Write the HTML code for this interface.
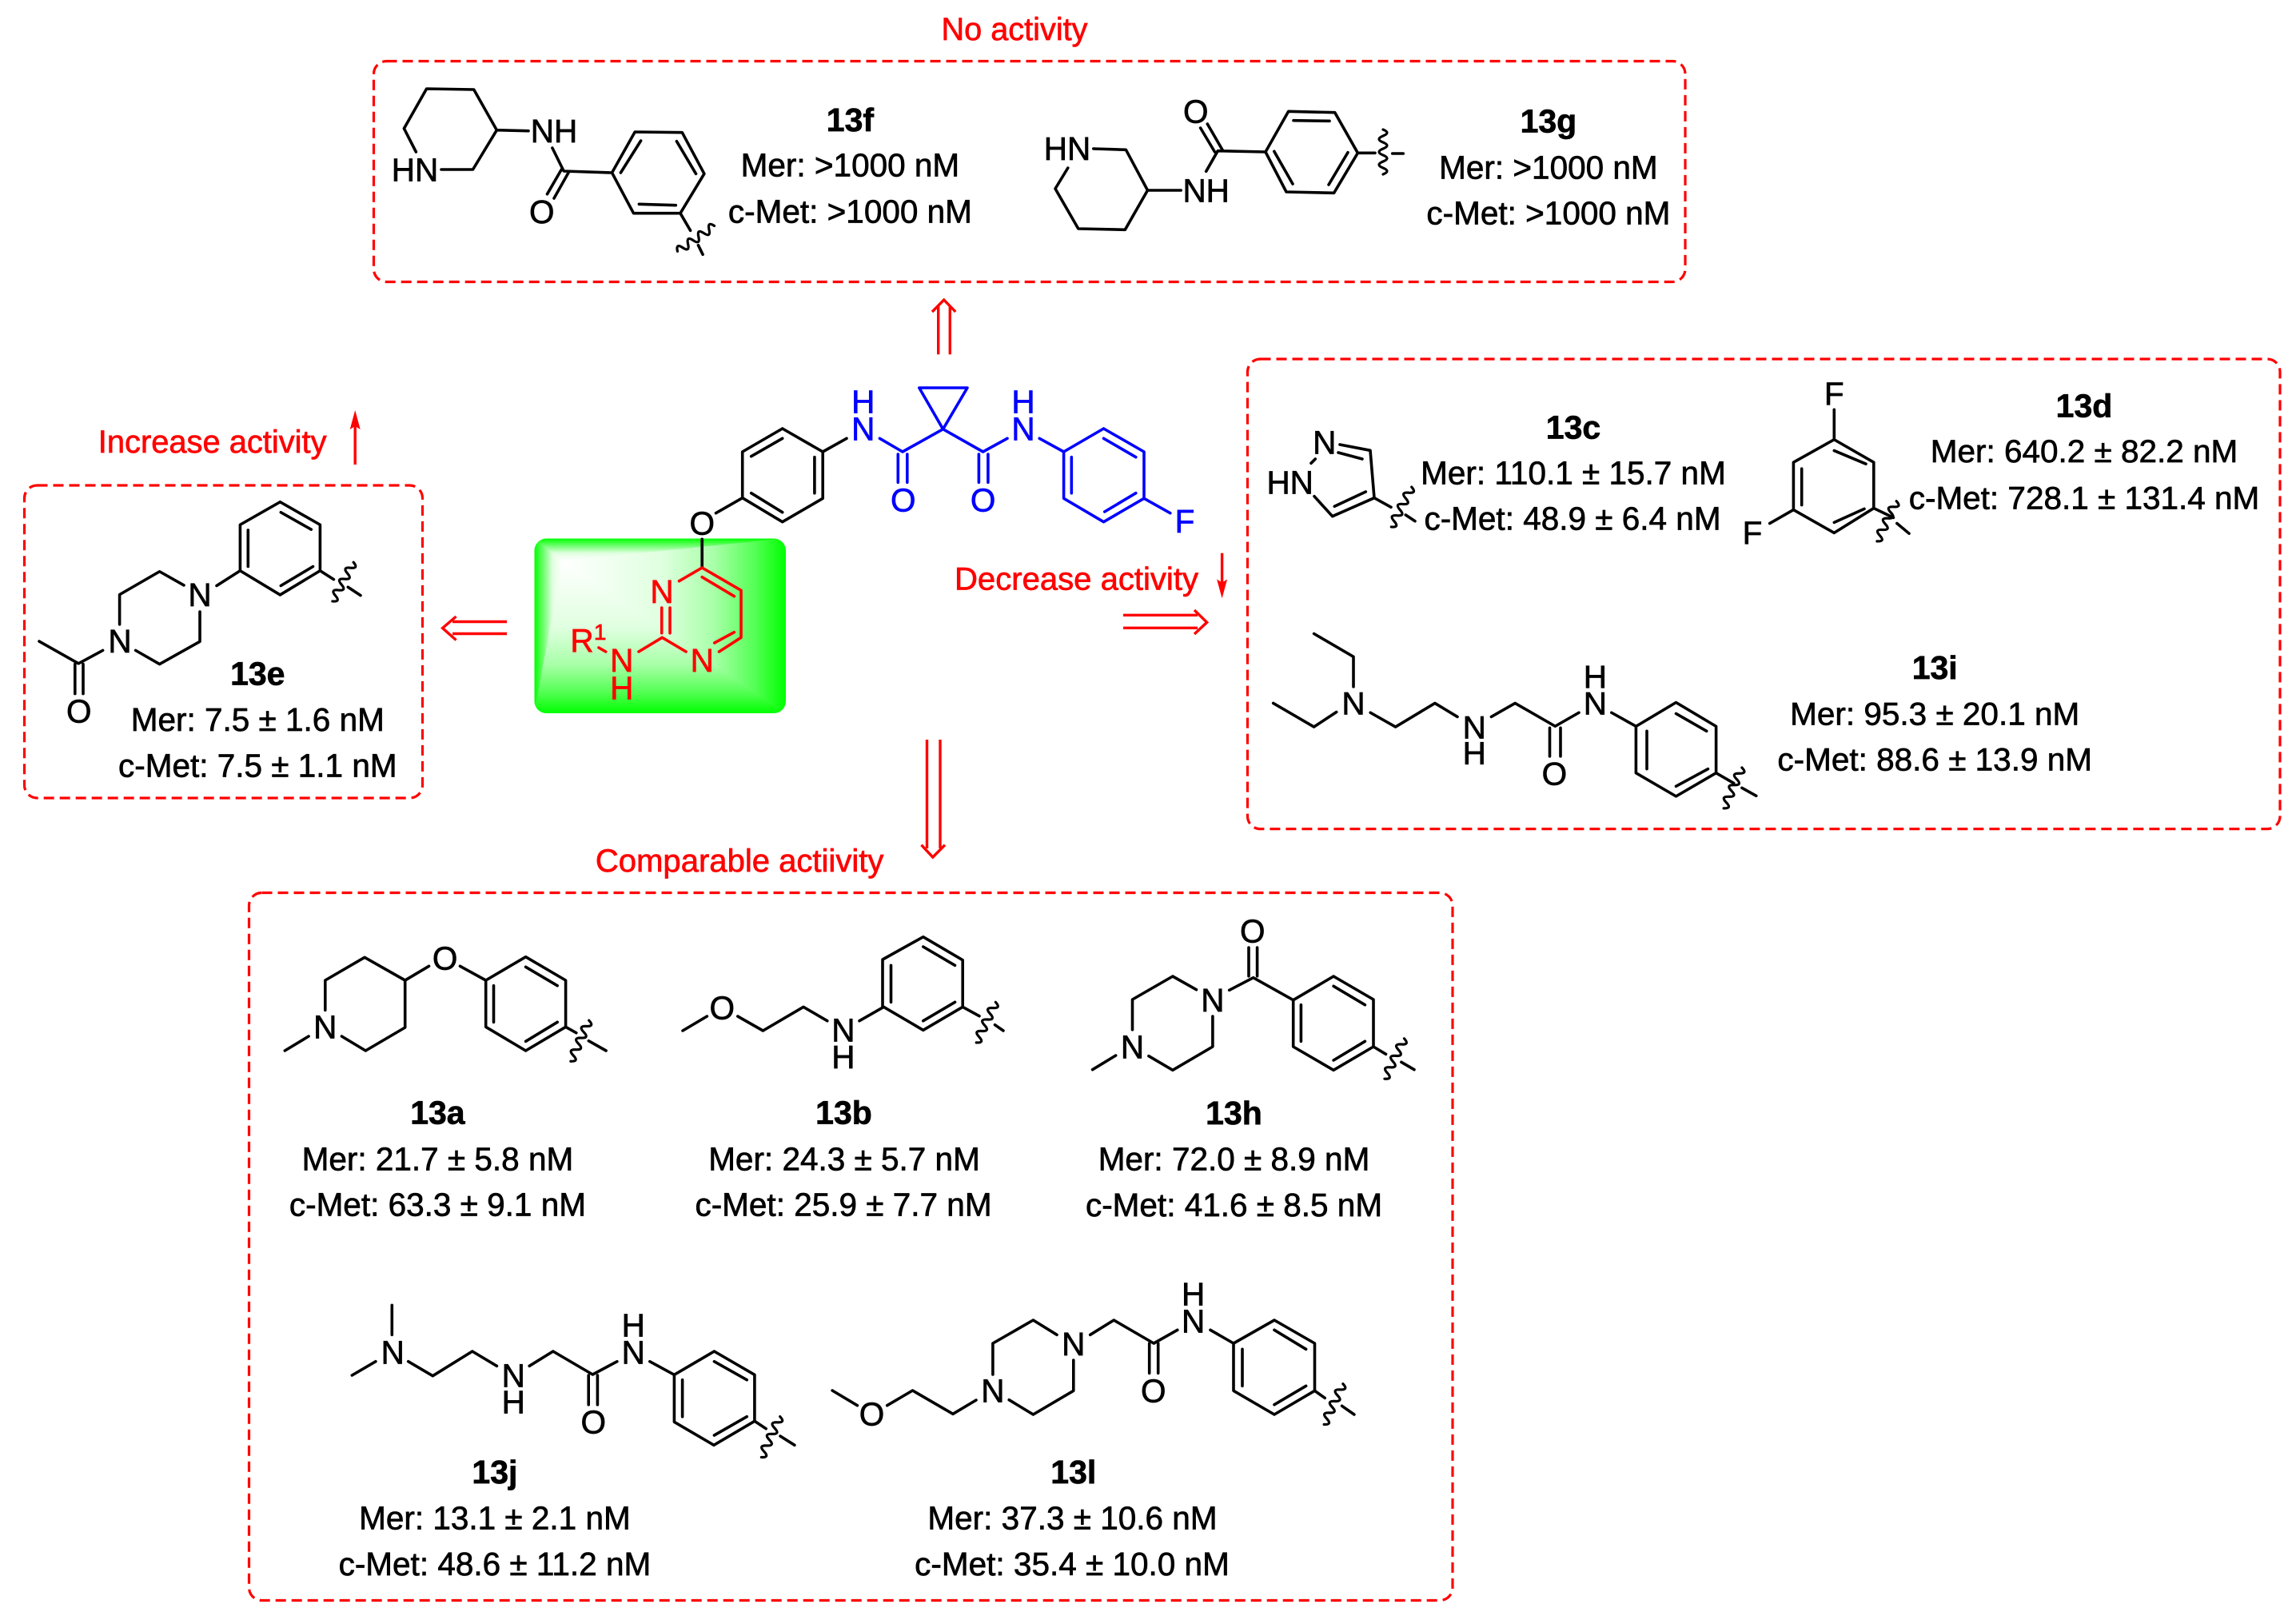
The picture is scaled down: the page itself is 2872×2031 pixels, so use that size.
<!DOCTYPE html>
<html><head><meta charset="utf-8"><style>
html,body{margin:0;padding:0;background:#fff}
svg{display:block}
text{font-family:"Liberation Sans",sans-serif;stroke-width:.7px}
.b{fill:none;stroke:#000;stroke-width:3.6;stroke-linecap:round;stroke-linejoin:round}
.w{fill:none;stroke:#000;stroke-width:3.2;stroke-linecap:round}
.box{fill:none;stroke:#f00;stroke-width:3.2;stroke-dasharray:13 7}
.a{font-size:40.5px;text-anchor:middle;fill:#000;stroke:#000}
.v{font-size:40.5px;text-anchor:middle;fill:#000;stroke:#000}
.t{font-size:41px;font-weight:bold;text-anchor:middle;fill:#000;stroke:#000}
.r{font-size:40px;fill:#f00;stroke:#f00}
.ra{fill:none;stroke:#f00;stroke-width:3.4}
.bl{font-size:40.5px;text-anchor:middle;fill:#00f;stroke:#00f}
.rd{font-size:40.5px;text-anchor:middle;fill:#f00;stroke:#f00}
</style></head><body>
<svg width="2872" height="2031" viewBox="0 0 2872 2031" xmlns="http://www.w3.org/2000/svg">
<defs>
<clipPath id="gc"><rect x="668.5" y="673.5" width="314.5" height="218.5" rx="15"/></clipPath>
<linearGradient id="gl" gradientUnits="userSpaceOnUse" x1="703.3" y1="0" x2="668.5" y2="0"><stop offset="0" stop-color="#fff"/><stop offset=".35" stop-color="#e0ffe0"/><stop offset="1" stop-color="#0f0"/></linearGradient>
<linearGradient id="gt" gradientUnits="userSpaceOnUse" x1="0" y1="701.7" x2="0" y2="673.5"><stop offset="0" stop-color="#fff"/><stop offset=".35" stop-color="#e0ffe0"/><stop offset="1" stop-color="#0f0"/></linearGradient>
<linearGradient id="gr" gradientUnits="userSpaceOnUse" x1="703.3" y1="0" x2="983" y2="0"><stop offset="0" stop-color="#fff"/><stop offset=".44" stop-color="#e0ffe0"/><stop offset=".68" stop-color="#a8ffa8"/><stop offset=".86" stop-color="#55ff55"/><stop offset="1" stop-color="#0f0"/></linearGradient>
<linearGradient id="gb" gradientUnits="userSpaceOnUse" x1="0" y1="701.7" x2="0" y2="892"><stop offset="0" stop-color="#fff"/><stop offset=".44" stop-color="#e0ffe0"/><stop offset=".68" stop-color="#a8ffa8"/><stop offset=".86" stop-color="#55ff55"/><stop offset="1" stop-color="#0f0"/></linearGradient>
</defs>

<!-- green box -->
<g clip-path="url(#gc)" shape-rendering="crispEdges">
<polygon points="703.3,701.7 668,673 983.5,673" fill="url(#gt)"/>
<polygon points="703.3,701.7 983.5,673 983.5,892.5" fill="url(#gr)"/>
<polygon points="703.3,701.7 983.5,892.5 668,892.5" fill="url(#gb)"/>
<polygon points="703.3,701.7 668,892.5 668,673" fill="url(#gl)"/>
</g>

<!-- dashed boxes -->
<rect class="box" x="467.5" y="76.5" width="1640.5" height="276" rx="16"/>
<rect class="box" x="30.5" y="607" width="498" height="391" rx="16"/>
<rect class="box" x="1560.5" y="449" width="1291.5" height="587.7" rx="16"/>
<rect class="box" x="311.5" y="1116.5" width="1505.5" height="885" rx="16"/>

<!-- red labels -->
<text class="r" x="1177.5" y="50" textLength="183" lengthAdjust="spacingAndGlyphs">No activity</text>
<text class="r" x="122.8" y="565.8" textLength="285.7" lengthAdjust="spacingAndGlyphs">Increase activity</text>
<text class="r" x="1194" y="737.3" textLength="305" lengthAdjust="spacingAndGlyphs">Decrease activity</text>
<text class="r" x="744.9" y="1090" textLength="360.5" lengthAdjust="spacingAndGlyphs">Comparable actiivity</text>

<!-- red arrows -->
<path d="M444.2 581V530" class="ra"/><polygon points="444.2,513 450.7,537 444.2,533 437.7,537" fill="#f00"/>
<path d="M1528.6 691.7V730" class="ra"/><polygon points="1528.6,748.3 1522.1,724.5 1528.6,728.5 1535.1,724.5" fill="#f00"/>
<path class="ra" d="M634 777.5H566M634 792.5H566M570.5 771L553.6 785.5L570.5 800.5"/>
<path class="ra" d="M1405 769.3H1498M1405 785.3H1498M1494 763L1509.7 778.3L1494 793"/>
<path class="ra" d="M1173.7 443.3V382M1188.3 443.3V382M1166 390L1180.7 375L1195.3 390"/>
<path class="ra" d="M1159.5 925V1061M1176 925V1061M1152.5 1056.7L1166.8 1072L1182 1056.7"/>

<!-- 13f -->
<path class="b" d="M552 212L591.5 212L621.4 162.7L592.7 112L533.6 111L505.4 160.7L520.4 190M621.4 162.7L661 163.7M690.9 185L705.2 214L765.5 216M702.3 212L684.5 242.7M711 216L693 248M765.5 216L794.2 165L853.3 165.7L880.9 217.3L851 266.7L792.5 266.7L765.5 216M801.6 176L776.4 216M846.4 176.7L870.5 217.3M799.4 255.3L845.3 256.7M851 266.7L863.6 288.3M873.4 306.7L879.1 318.3"/>
<path class="w" transform="translate(870.5 298.4) rotate(-34.6)" d="M-28 0q4-10 8 0t8 0t8 0t8 0t8 0t8 0t8 0"/>
<text class="a" x="693" y="178">NH</text><text class="a" x="519" y="226.7">HN</text><text class="a" x="677.7" y="279">O</text>
<text class="t" x="1063.4" y="164">13f</text><text class="v" x="1063.4" y="220.7">Mer: &gt;1000 nM</text><text class="v" x="1063.4" y="278.3">c-Met: &gt;1000 nM</text>

<!-- 13g -->
<path class="b" d="M1367.8 186L1408.4 187.3L1435.5 238L1407.3 287.3L1348.8 286L1320 236L1335.8 210M1435.5 238H1477.2M1508.7 214.3L1523.3 188.7L1583 190M1501.6 160L1519.5 190M1510.3 155L1529.8 188.7M1583 190L1611.7 139.3L1669.7 140.7L1698.4 191.3L1668.6 241.3L1609 240L1583 190M1618 150.7L1663 151.3M1593.8 189.3L1617 230M1686 190.7L1662 231M1698.4 191.3H1720M1741.7 192H1755.3"/>
<path class="w" transform="translate(1730 190) rotate(90)" d="M-28 0q4-10 8 0t8 0t8 0t8 0t8 0t8 0t8 0"/>
<text class="a" x="1335" y="200">HN</text><text class="a" x="1508.7" y="252.3">NH</text><text class="a" x="1495.7" y="153.3">O</text>
<text class="t" x="1936.9" y="165.7">13g</text><text class="v" x="1936.9" y="223.3">Mer: &gt;1000 nM</text><text class="v" x="1936.9" y="280.7">c-Met: &gt;1000 nM</text>

<!-- 13e -->
<g transform="translate(0 480) scale(1 .9863) translate(0 -480)">
<path class="b" d="M350.4 629.8L400.4 658.7V717L350.4 747.6L300.4 717V658.7L350.4 629.8M351.3 643L389.3 664.7M391.5 711.7L351.3 736M310.3 665.4V711.7M271 736L300.4 717M230 735.4L199.6 718L149.6 747.3V785M250 769V806.8L199.6 835.4L169.6 818M128.6 818L98.2 834.7L49 806.5M93.8 835.4V873M104 835.4V873M400.4 717L417.4 728M435.3 737.8L451 748.3"/>
<path class="w" transform="translate(429 731) rotate(118)" d="M-28 0q4-10 8 0t8 0t8 0t8 0t8 0t8 0t8 0"/>
</g>
<text class="a" x="250" y="758.1">N</text><text class="a" x="150" y="816.1">N</text><text class="a" x="98.7" y="903.4">O</text>
<text class="t" x="322.3" y="856.6">13e</text><text class="v" x="322.3" y="914">Mer: 7.5 ± 1.6 nM</text><text class="v" x="322.3" y="971.5">c-Met: 7.5 ± 1.1 nM</text>

<!-- centre: black -->
<path class="b" d="M978.7 536L1029.2 565V623.3L978.7 652.7L928.7 622.7V565L978.7 536M939.7 570.7L978.7 548.3M1018.9 571.7V616.7M939.7 616.7L978.7 640.7M1029.2 565L1059 548.3M928.7 622.7L895.5 641.7M878.2 674.3V710"/>
<text class="a" x="878.2" y="668.3">O</text>
<!-- centre: blue -->
<path class="b" style="stroke:#00f" d="M1100.4 548.3L1129 565L1179.6 536.7L1149.8 485H1210L1179.6 536.7L1229.6 565L1260 548.3M1300.2 548.3L1330.6 565M1123.3 568V603.3M1134.8 568V603.3M1224.4 568V603.3M1235.9 568V603.3M1380.5 536L1431 565V623.3L1380.5 652.7L1330.6 623.3V565L1380.5 536M1380.5 548.3L1420.8 571.7M1340.3 571.7V616.7M1381.7 640L1420.8 616.7M1431 623.3L1463.8 641.7"/>
<text class="bl" x="1079.7" y="550.7">N</text><text class="bl" x="1079.7" y="516.7">H</text>
<text class="bl" x="1280" y="550.7">N</text><text class="bl" x="1280" y="516.7">H</text>
<text class="bl" x="1129.7" y="639.3">O</text><text class="bl" x="1229.6" y="639.3">O</text>
<text class="bl" x="1482" y="666">F</text>
<!-- centre: red -->
<path class="b" style="stroke:#f00" d="M849.5 726.7L878.2 710L927 738.3V797.3L899.5 815M878.2 721.7L918.4 745.7M918.4 790.7L893.7 804M858.1 815L828.3 797.3L799 815M827.7 760V791.7M838 760V791.7M749 810L757.7 815"/>
<text class="rd" x="828" y="754">N</text><text class="rd" x="878.2" y="840">N</text><text class="rd" x="777.8" y="840">N</text><text class="rd" x="777.8" y="874.3">H</text>
<text class="rd" x="728" y="815">R</text><text class="rd" style="font-size:28px" x="750.7" y="800">1</text>

<!-- right box molecules -->
<path class="b" d="M1640 579.3L1645.3 574M1676 556L1714 563.3L1719 622.7L1666.7 645.7L1644 620.7M1674 566L1704 574M1708.3 615L1669.3 633.3M1719 622.7L1740 634.3M1758.3 644L1770 651.7"/>
<path class="w" transform="translate(1753 634) rotate(117)" d="M-28 0q4-10 8 0t8 0t8 0t8 0t8 0t8 0t8 0"/>
<text class="a" x="1656.7" y="567.3">N</text><text class="a" x="1613.7" y="617.3">HN</text>
<text class="t" x="1968" y="548.3">13c</text><text class="v" x="1968" y="605.7">Mer: 110.1 ± 15.7 nM</text><text class="v" x="1967" y="662.7">c-Met: 48.9 ± 6.4 nM</text>

<g transform="translate(0 430) scale(1 .9945) translate(0 -430)">
<g transform="translate(-4 0)">
<path class="b" d="M2298.3 512.7V550.4L2347.8 579V636.7L2298.3 667.7L2247.4 638.7V579L2298.3 550.4M2298.3 564.3L2338 581M2257.7 587V632.7M2298.3 654.6L2336 637.5M2247.4 638.7L2217.7 655.8M2347.8 636.7L2372.4 648.6M2376.8 655.8L2392 668.5"/>
<path class="w" transform="translate(2364 653) rotate(115.6)" d="M-28 0q4-10 8 0t8 0t8 0t8 0t8 0t8 0t8 0"/>
<text class="a" x="2298.3" y="506.3">F</text><text class="a" x="2196" y="681.2">F</text>
</g>
<text class="t" x="2607" y="522.2">13d</text><text class="v" x="2607" y="579">Mer: 640.2 ± 82.2 nM</text><text class="v" x="2607" y="637.5">c-Met: 728.1 ± 131.4 nM</text>

<path class="b" d="M1643.6 794.5L1693 823.5V861.2M1671.7 893L1643.6 911.7L1592.7 881.9M1714.2 893.8L1745.6 911.7L1794.9 881.9L1823 899M1865.4 899L1895.2 881.9L1945.3 910.9L1975 893.8M1938.5 913V948.7M1952 913V948.7M2015.8 893.8L2046.4 911L2096.5 881L2146.6 911V969.7L2096.5 999L2046.4 969.7V911M2096.5 895L2134.7 917M2060 917V964.6M2096.5 986.4L2136.4 964.6M2146.6 969.7L2168.7 982.5M2178.9 988.4L2196.8 998.4"/>
<path class="w" transform="translate(2167.5 988.5) rotate(114)" d="M-28 0q4-10 8 0t8 0t8 0t8 0t8 0t8 0t8 0"/>
<text class="a" x="1693" y="896.2">N</text><text class="a" x="1844.2" y="926">N</text><text class="a" x="1844.2" y="958.6">H</text><text class="a" x="1995.4" y="896.2">N</text><text class="a" x="1995.4" y="862.4">H</text><text class="a" x="1944.4" y="984.4">O</text>
<text class="t" x="2420.2" y="851.3">13i</text><text class="v" x="2420.2" y="909">Mer: 95.3 ± 20.1 nM</text><text class="v" x="2420.2" y="966.6">c-Met: 88.6 ± 13.9 nM</text>
</g>

<!-- 13a -->
<path class="b" d="M356.3 1314L386.1 1296M406.8 1263.3V1226L456.1 1197.3L506.7 1226V1285L457.3 1314L427.4 1296M506.7 1226L536.5 1208.3M575.5 1208.3L607.7 1226L657.6 1196.7L707.6 1226V1284.3L657.6 1314L607.7 1284.3V1226M657.6 1209.3L697.2 1232.7M617.5 1232.7V1278.3M657.6 1302.3L697.2 1278.3M707.6 1284.3L720.8 1291.7M736.3 1301.7L758.1 1314"/>
<path class="w" transform="translate(725.3 1301.7) rotate(114)" d="M-28 0q4-10 8 0t8 0t8 0t8 0t8 0t8 0t8 0"/>
<text class="a" x="406.8" y="1298.3">N</text><text class="a" x="556.6" y="1212.3">O</text>
<text class="t" x="547.4" y="1405.7">13a</text><text class="v" x="547.4" y="1463.3">Mer: 21.7 ± 5.8 nM</text><text class="v" x="547.4" y="1520.7">c-Met: 63.3 ± 9.1 nM</text>

<!-- 13b -->
<path class="b" d="M854 1289L884.4 1271M922.8 1271L954.4 1289L1005 1259.3L1034.8 1276.7M1075 1276.7L1105.4 1259.3L1154.8 1288.3L1204.2 1259.3V1200.7L1154.8 1171.7L1104 1200V1259.3M1154.8 1184L1194.5 1207.3M1114.5 1207.3V1253.3M1154.8 1276.7L1194.5 1253.3M1204.2 1259.3L1225 1270.7M1244.5 1281.7L1255 1289"/>
<path class="w" transform="translate(1233.3 1278.6) rotate(115.5)" d="M-28 0q4-10 8 0t8 0t8 0t8 0t8 0t8 0t8 0"/>
<text class="a" x="903.3" y="1274.3">O</text><text class="a" x="1054.9" y="1302.3">N</text><text class="a" x="1054.9" y="1336">H</text>
<text class="t" x="1055.5" y="1405.7">13b</text><text class="v" x="1056" y="1463.3">Mer: 24.3 ± 5.7 nM</text><text class="v" x="1055" y="1520.7">c-Met: 25.9 ± 7.7 nM</text>

<!-- 13h -->
<path class="b" d="M1366.6 1337.7L1395.7 1320M1416.5 1287.7V1250L1466.9 1221L1496.5 1237.7M1516.9 1271V1309L1466.9 1338.3L1436.9 1320.7M1537.7 1238.3L1567.7 1222.7L1617.7 1250.7L1668.1 1221L1718 1250V1309L1668.1 1338.3L1617.7 1309V1250.7M1562 1185V1220.7M1572.6 1185V1220.7M1668.1 1233.3L1707.4 1256.7M1627.4 1256.7V1302.3M1668.1 1326L1707.4 1302.3M1718 1309L1733.5 1318.3M1752.9 1328.3L1769 1337.7"/>
<path class="w" transform="translate(1744.2 1324) rotate(116)" d="M-28 0q4-10 8 0t8 0t8 0t8 0t8 0t8 0t8 0"/>
<text class="a" x="1416.5" y="1323.3">N</text><text class="a" x="1516.9" y="1265">N</text><text class="a" x="1566.8" y="1178.3">O</text>
<text class="t" x="1543.5" y="1406">13h</text><text class="v" x="1543.5" y="1463.3">Mer: 72.0 ± 8.9 nM</text><text class="v" x="1543.5" y="1521">c-Met: 41.6 ± 8.5 nM</text>

<!-- 13j -->
<path class="b" d="M490.3 1632.3V1669.3M440.3 1720L469.9 1702.7M510.7 1702.7L541.3 1720.7L590.8 1690L621.4 1708.3M662.2 1708.3L691.8 1690L741.3 1719L771.9 1702.7M736.2 1720V1756.7M747.4 1720V1756.7M812.8 1702.7L843.4 1719.3L893.4 1690L943.9 1719.3V1777.3L892.9 1807.3L843.4 1778.3V1719.3M893.4 1702.7L934.2 1725.7M853.6 1725.7V1771.7M893.4 1795L934.2 1771.7M943.9 1777.3L958.2 1786.7M976 1796L993.9 1807.3"/>
<path class="w" transform="translate(964 1797) rotate(114.6)" d="M-28 0q4-10 8 0t8 0t8 0t8 0t8 0t8 0t8 0"/>
<text class="a" x="491.3" y="1705.7">N</text><text class="a" x="642.3" y="1734.3">N</text><text class="a" x="642.3" y="1767.3">H</text><text class="a" x="792.3" y="1705.7">N</text><text class="a" x="792.3" y="1671.7">H</text><text class="a" x="742.3" y="1792.7">O</text>
<text class="t" x="618.9" y="1855">13j</text><text class="v" x="618.9" y="1912.3">Mer: 13.1 ± 2.1 nM</text><text class="v" x="618.9" y="1970">c-Met: 48.6 ± 11.2 nM</text>

<!-- 13l -->
<path class="b" d="M1041.1 1739L1072.4 1757.7M1109.7 1757.7L1141.5 1739L1192 1768.3L1221 1751M1241.9 1719V1680L1292.4 1651L1322 1669.3M1342.8 1701V1739.3L1292.4 1769L1262.2 1750.7M1363.7 1669.3L1393.3 1651L1443.2 1680L1472.8 1663.3M1437.7 1680V1717.3M1448.7 1680V1717.3M1514 1663.3L1543 1680L1594 1651L1644.5 1680V1739.3L1594 1769L1543 1739.3V1680M1594 1663.3L1633.6 1687.3M1554 1687.3V1733.3M1594 1756.7L1633.6 1733.3M1644.5 1739.3L1657.2 1748.3M1678.6 1758.3L1693.9 1769"/>
<path class="w" transform="translate(1668 1756) rotate(115)" d="M-28 0q4-10 8 0t8 0t8 0t8 0t8 0t8 0t8 0"/>
<text class="a" x="1090.5" y="1782.3">O</text><text class="a" x="1241.9" y="1753.3">N</text><text class="a" x="1342.8" y="1695">N</text><text class="a" x="1492.6" y="1666.7">N</text><text class="a" x="1492.6" y="1632.7">H</text><text class="a" x="1442.7" y="1753.3">O</text>
<text class="t" x="1342.8" y="1855">13l</text><text class="v" x="1341.5" y="1912.3">Mer: 37.3 ± 10.6 nM</text><text class="v" x="1341" y="1970">c-Met: 35.4 ± 10.0 nM</text>
</svg>
</body></html>
